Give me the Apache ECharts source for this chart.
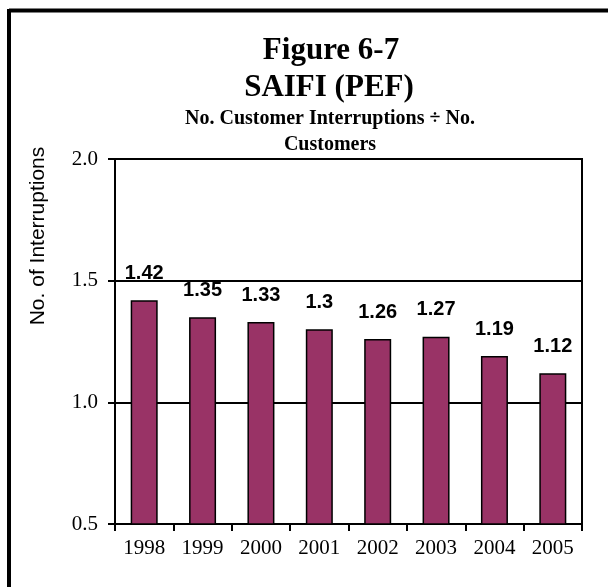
<!DOCTYPE html>
<html>
<head>
<meta charset="utf-8">
<script src="https://cdn.jsdelivr.net/npm/echarts@6/dist/echarts.min.js"></script>
<style>
  html, body { margin: 0; padding: 0; background: #fff; }
  #chart { width: 608px; height: 587px; }
</style>
</head>
<body>
<div id="chart"></div>
<script>
var years = ['1998', '1999', '2000', '2001', '2002', '2003', '2004', '2005'];
var saifi = [1.42, 1.35, 1.33, 1.3, 1.26, 1.27, 1.19, 1.12];
var yTicks = [0.5, 1.0, 1.5, 2.0];

var serif = '"Liberation Serif", "Times New Roman", serif';
var sans = '"Liberation Sans", Arial, sans-serif';

var chart = echarts.init(document.getElementById('chart'), null, { renderer: 'canvas' });

var option = {
  backgroundColor: '#fff',
  animation: false,
  title: [
    { text: 'Figure 6-7', left: 331, top: 35, textAlign: 'center', padding: 0,
      textStyle: { fontFamily: serif, fontWeight: 'bold', fontSize: 31, color: '#000' } },
    { text: 'SAIFI (PEF)', left: 329, top: 72, textAlign: 'center', padding: 0,
      textStyle: { fontFamily: serif, fontWeight: 'bold', fontSize: 31, color: '#000' } },
    { text: 'No. Customer Interruptions ÷ No.', left: 330, top: 109, textAlign: 'center', padding: 0,
      textStyle: { fontFamily: serif, fontWeight: 'bold', fontSize: 20, color: '#000' } },
    { text: 'Customers', left: 330, top: 135, textAlign: 'center', padding: 0,
      textStyle: { fontFamily: serif, fontWeight: 'bold', fontSize: 20, color: '#000' } }
  ],
  graphic: [
    // frame round the picture (only left and top show)
    { type: 'line', shape: { x1: 9, y1: 10.5, x2: 608, y2: 10.5 }, style: { stroke: '#000', lineWidth: 4 } },
    { type: 'line', shape: { x1: 9, y1: 9, x2: 9, y2: 587 }, style: { stroke: '#000', lineWidth: 4 } },
    { type: 'text', x: 38, y: 236, rotation: Math.PI / 2,
      style: { text: 'No. of Interruptions', fill: '#000', font: '21px ' + sans,
        textAlign: 'center', textVerticalAlign: 'middle' } }
  ],
  grid: {
    left: 115, right: 26, top: 159, bottom: 63,
    show: true, borderColor: '#000', borderWidth: 2, backgroundColor: 'transparent'
  },
  xAxis: {
    type: 'category',
    data: years,
    boundaryGap: true,
    axisLine: { lineStyle: { color: '#000', width: 2 } },
    axisTick: { show: true, inside: false, length: 7, lineStyle: { color: '#000', width: 2 } },
    axisLabel: { color: '#000', fontFamily: serif, fontSize: 21, margin: 14 }
  },
  yAxis: {
    type: 'value',
    min: 0.5, max: 2.0, interval: 0.5,
    axisLine: { show: true, lineStyle: { color: '#000', width: 2 } },
    axisTick: { show: true, length: 7, lineStyle: { color: '#000', width: 2 } },
    axisLabel: {
      color: '#000', fontFamily: serif, fontSize: 21, margin: 17,
      formatter: function (v) { return v.toFixed(1); }
    },
    splitLine: { show: true, lineStyle: { color: '#000', width: 2 } }
  },
  series: [{
    type: 'bar',
    data: saifi,
    barWidth: 27,
    itemStyle: { color: '#993366', borderColor: '#000', borderWidth: 1.5 },
    label: {
      show: true, position: 'top', distance: 17,
      color: '#000', fontFamily: sans, fontWeight: 'bold', fontSize: 20
    }
  }]
};

chart.setOption(option);
</script>
</body>
</html>
